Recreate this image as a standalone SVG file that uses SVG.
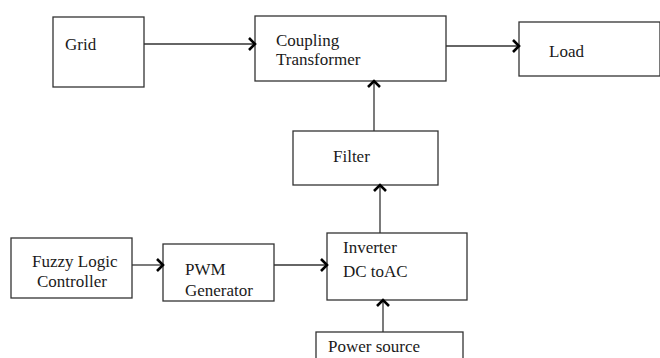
<svg xmlns="http://www.w3.org/2000/svg" width="660" height="358" viewBox="0 0 660 358">
<style>
.box{fill:#fff;stroke:#333;stroke-width:1.3}
.t{font-family:'Liberation Serif','DejaVu Serif',serif;font-size:17px;fill:#1a1a1a}
.c{stroke:#333;stroke-width:1.3;fill:none}
</style>
<defs>
<marker id="ah" markerUnits="userSpaceOnUse" markerWidth="12" markerHeight="16" refX="8" refY="8" orient="auto" viewBox="0 0 12 16">
<path d="M2,2 L8,8 L2,14" fill="none" stroke="#000" stroke-width="2.6" stroke-linejoin="miter"/>
</marker>
</defs>
<rect width="660" height="358" fill="#fff"/>
<g id="grid"><rect class="box" x="53" y="17" width="91" height="70"/><text class="t" x="65" y="50">Grid</text></g>
<g id="coupling"><rect class="box" x="255" y="16" width="191" height="65"/><text class="t" x="276" y="46">Coupling</text><text class="t" x="276" y="65">Transformer</text></g>
<g id="load"><rect class="box" x="519" y="22" width="141" height="54"/><text class="t" x="549" y="57">Load</text></g>
<g id="filter"><rect class="box" x="293" y="131" width="145" height="54"/><text class="t" x="333" y="162">Filter</text></g>
<g id="inverter"><rect class="box" x="327" y="233" width="140" height="67"/><text class="t" x="343" y="253">Inverter</text><text class="t" x="343" y="277">DC toAC</text></g>
<g id="power"><rect class="box" x="316" y="332" width="147" height="30"/><text class="t" x="328" y="352">Power source</text></g>
<g id="fuzzy"><rect class="box" x="11" y="238" width="121" height="60"/><text class="t" x="32" y="267">Fuzzy Logic</text><text class="t" x="37" y="287">Controller</text></g>
<g id="pwm"><rect class="box" x="163" y="244" width="111" height="57"/><text class="t" x="185" y="275">PWM</text><text class="t" x="185" y="296">Generator</text></g>
<g id="connectors">
<line class="c" x1="144" y1="44" x2="255" y2="44" marker-end="url(#ah)"/>
<line class="c" x1="446" y1="46" x2="519" y2="46" marker-end="url(#ah)"/>
<line class="c" x1="374" y1="131" x2="374" y2="81" marker-end="url(#ah)"/>
<line class="c" x1="380" y1="233" x2="380" y2="185" marker-end="url(#ah)"/>
<line class="c" x1="383" y1="332" x2="383" y2="300" marker-end="url(#ah)"/>
<line class="c" x1="274" y1="265" x2="327" y2="265" marker-end="url(#ah)"/>
<line class="c" x1="132" y1="265" x2="163" y2="265" marker-end="url(#ah)"/>
</g>
</svg>
